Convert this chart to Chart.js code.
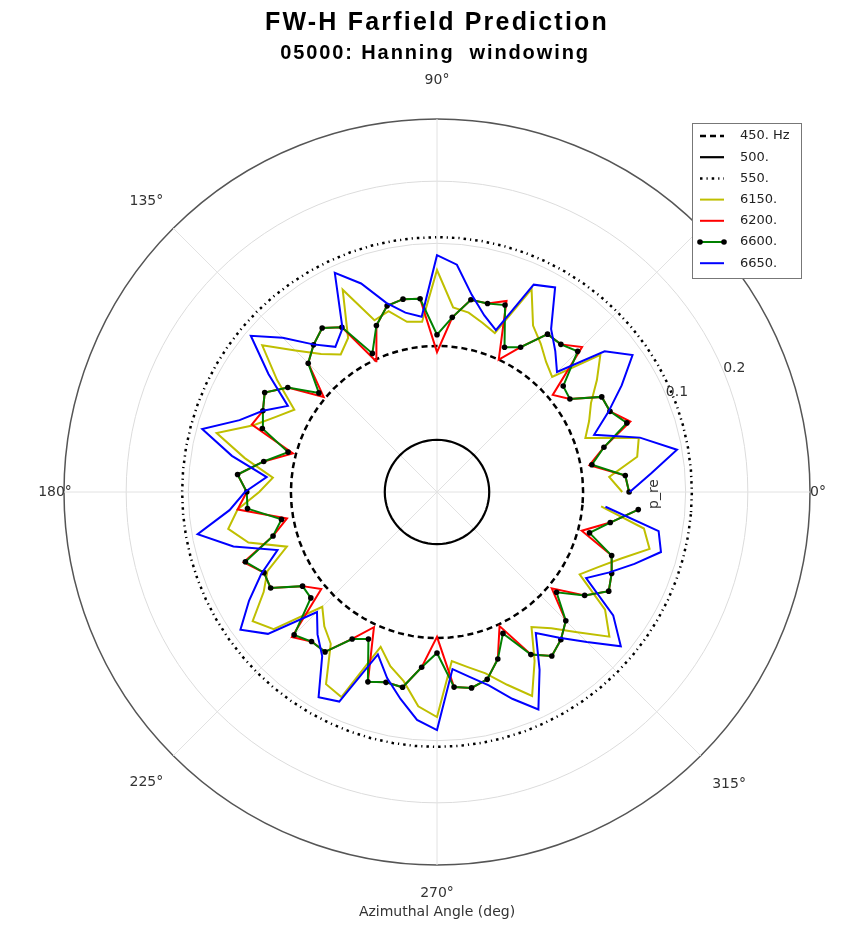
<!DOCTYPE html>
<html>
<head>
<meta charset="utf-8">
<script src="https://cdn.jsdelivr.net/npm/chart.js@4.4.0/dist/chart.umd.min.js"></script>
<style>
  html, body { margin: 0; padding: 0; background: #fff; overflow: hidden; }
  #wrap { width: 856px; height: 938px; }
</style>
</head>
<body>
<div id="wrap"><canvas id="farfield" width="856" height="938"></canvas></div>
<script>
// azimuthal angle of each sample (deg, counter-clockwise from 0 deg)
const angles = [0, 5, 10, 15, 20, 25, 30, 35, 40, 45, 50, 55, 60, 65, 70, 75, 80, 85,
  90, 95, 100, 105, 110, 115, 120, 125, 130, 135, 140, 145, 150, 155, 160, 165, 170, 175,
  180, 185, 190, 195, 200, 205, 210, 215, 220, 225, 230, 235, 240, 245, 250, 255, 260, 265,
  270, 275, 280, 285, 290, 295, 300, 305, 310, 315, 320, 325, 330, 335, 340, 345, 350, 355];

// p_re per frequency, same order as angles
const p450 = [-0.065, -0.065, -0.065, -0.065, -0.065, -0.065, -0.065, -0.065, -0.065, -0.065, -0.065, -0.065,
  -0.065, -0.065, -0.065, -0.065, -0.065, -0.065, -0.065, -0.065, -0.065, -0.065, -0.065, -0.065,
  -0.065, -0.065, -0.065, -0.065, -0.065, -0.065, -0.065, -0.065, -0.065, -0.065, -0.065, -0.065,
  -0.065, -0.065, -0.065, -0.065, -0.065, -0.065, -0.065, -0.065, -0.065, -0.065, -0.065, -0.065,
  -0.065, -0.065, -0.065, -0.065, -0.065, -0.065, -0.065, -0.065, -0.065, -0.065, -0.065, -0.065,
  -0.065, -0.065, -0.065, -0.065, -0.065, -0.065, -0.065, -0.065, -0.065, -0.065, -0.065, -0.065];
const p500 = [-0.216, -0.216, -0.216, -0.216, -0.216, -0.216, -0.216, -0.216, -0.216, -0.216, -0.216, -0.216,
  -0.216, -0.216, -0.216, -0.216, -0.216, -0.216, -0.216, -0.216, -0.216, -0.216, -0.216, -0.216,
  -0.216, -0.216, -0.216, -0.216, -0.216, -0.216, -0.216, -0.216, -0.216, -0.216, -0.216, -0.216,
  -0.216, -0.216, -0.216, -0.216, -0.216, -0.216, -0.216, -0.216, -0.216, -0.216, -0.216, -0.216,
  -0.216, -0.216, -0.216, -0.216, -0.216, -0.216, -0.216, -0.216, -0.216, -0.216, -0.216, -0.216,
  -0.216, -0.216, -0.216, -0.216, -0.216, -0.216, -0.216, -0.216, -0.216, -0.216, -0.216, -0.216];
const p550 = [0.110, 0.110, 0.110, 0.110, 0.110, 0.110, 0.110, 0.110, 0.110, 0.110, 0.110, 0.110,
  0.110, 0.110, 0.110, 0.110, 0.110, 0.110, 0.110, 0.110, 0.110, 0.110, 0.110, 0.110,
  0.110, 0.110, 0.110, 0.110, 0.110, 0.110, 0.110, 0.110, 0.110, 0.110, 0.110, 0.110,
  0.110, 0.110, 0.110, 0.110, 0.110, 0.110, 0.110, 0.110, 0.110, 0.110, 0.110, 0.110,
  0.110, 0.110, 0.110, 0.110, 0.110, 0.110, 0.110, 0.110, 0.110, 0.110, 0.110, 0.110,
  0.110, 0.110, 0.110, 0.110, 0.110, 0.110, 0.110, 0.110, 0.110, 0.110, 0.110, 0.110];
const p6150 = [-0.002, -0.022, 0.027, 0.036, -0.046, -0.030, -0.014, 0.014, 0.043, -0.038, -0.027, -0.009,
  0.009, 0.060, -0.028, -0.018, -0.007, -0.002, 0.057, -0.025, -0.022, 0.001, -0.006, 0.059,
  -0.014, -0.030, -0.010, 0.022, 0.067, 0.014, -0.035, -0.014, 0.014, 0.067, 0.014, -0.035,
  -0.014, 0.022, 0.041, 0.014, -0.043, 0.001, 0.022, 0.062, 0.043, -0.039, -0.018, -0.002,
  0.057, 0.064, -0.035, -0.010, 0.009, 0.046, 0.062, -0.027, -0.014, 0.002, 0.030, 0.062,
  0.014, -0.035, -0.014, 0.019, 0.062, 0.030, -0.035, -0.014, 0.014, 0.054, 0.038, -0.035];
const p6200 = [0.009, 0.004, -0.051, -0.022, 0.031, 0.007, 0.006, -0.039, -0.057, 0.030, 0.010, 0.010,
  -0.031, -0.065, 0.027, 0.014, 0.014, -0.018, -0.075, 0.012, 0.015, 0.010, -0.015, -0.068,
  0.006, 0.022, 0.009, -0.007, -0.062, -0.007, 0.020, 0.009, 0.017, -0.060, -0.017, 0.022,
  0.006, 0.022, -0.055, -0.027, 0.031, 0.007, 0.009, -0.036, -0.057, 0.030, 0.014, 0.014,
  -0.027, -0.060, 0.025, 0.017, 0.019, -0.017, -0.067, 0.015, 0.020, 0.012, -0.014, -0.062,
  0.002, 0.022, 0.010, -0.007, -0.059, -0.010, 0.019, 0.010, -0.001, -0.059, -0.017, 0.025];
const p6600 = [0.009, 0.004, -0.047, -0.022, 0.025, 0.007, 0.006, -0.039, -0.035, 0.020, 0.010, 0.010,
  -0.031, -0.043, 0.020, 0.014, 0.014, -0.018, -0.047, 0.012, 0.015, 0.010, -0.015, -0.054,
  0.006, 0.022, 0.009, -0.007, -0.052, -0.007, 0.020, 0.009, -0.001, -0.052, -0.017, 0.022,
  0.006, 0.006, -0.046, -0.027, 0.028, 0.007, 0.009, -0.036, -0.035, 0.025, 0.014, 0.014,
  -0.027, -0.039, 0.025, 0.017, 0.019, -0.017, -0.041, 0.015, 0.020, 0.012, -0.014, -0.049,
  0.002, 0.022, 0.010, -0.007, -0.049, -0.010, 0.019, 0.010, -0.001, -0.046, -0.017, 0.025];
const p6650 = [0.010, 0.046, 0.092, 0.038, -0.031, 0.004, 0.043, 0.084, 0.052, -0.027, -0.004, 0.020,
  0.080, 0.068, -0.023, -0.006, 0.022, 0.067, 0.081, -0.017, -0.007, 0.015, 0.057, 0.089,
  0.004, -0.015, 0.010, 0.051, 0.091, 0.031, -0.023, 0.009, 0.038, 0.091, 0.035, -0.025,
  0.009, 0.035, 0.091, 0.039, -0.027, 0.012, 0.049, 0.086, 0.055, -0.027, -0.001, 0.022,
  0.081, 0.072, -0.022, 0.010, 0.038, 0.068, 0.083, -0.014, 0.002, 0.022, 0.054, 0.086,
  0.030, -0.023, 0.006, 0.041, 0.086, 0.046, -0.023, 0.006, 0.038, 0.073, 0.062, -0.028];

const rTicks = [-0.3, 0.1, 0.2, 0.3];
const rTickLabels = ['0.1', '0.2'];
const angleTicks = [0, 45, 90, 135, 180, 225, 270, 315];
// distance of each angle label from the centre, px
const angleTickDist = [381, 411, 412, 411, 382, 411, 401, 413];

// radar goes clockwise, so feed it the samples from 355 deg down to 0 deg
const toRadar = arr => arr.slice().reverse();

// radar always closes its outline; the measured curve stops at 355 deg
const openEnds = {
  id: 'openEnds',
  afterDatasetsUpdate(chart) {
    chart.data.datasets.forEach((ds, i) => {
      if (!ds.openEnd) return;
      const line = chart.getDatasetMeta(i).dataset;
      line._loop = false;
      line._fullLoop = false;
      delete line._segments;
      delete line._path;
    });
  }
};

const decorations = {
  id: 'decorations',
  afterDraw(chart) {
    const ctx = chart.ctx;
    const r = chart.scales.r;
    const labels = chart.data.labels;
    ctx.save();

    // angle labels
    ctx.font = '14px "DejaVu Sans"';
    ctx.fillStyle = '#333';
    ctx.textAlign = 'center';
    ctx.textBaseline = 'middle';
    angleTicks.forEach((a, k) => {
      const p = r.getPointPosition(labels.indexOf(a), angleTickDist[k]);
      ctx.fillText(a + '\u00b0', p.x, p.y);
    });

    // radial tick labels along 22.5 deg
    const t = 22.5 * Math.PI / 180;
    rTickLabels.forEach(lbl => {
      const d = r.getDistanceFromCenterForValue(parseFloat(lbl)) + 11;
      ctx.fillText(lbl, r.xCenter + d * Math.cos(t), r.yCenter - d * Math.sin(t));
    });

    // radial axis name
    ctx.save();
    ctx.translate(r.xCenter + 217, r.yCenter + 2);
    ctx.rotate(-Math.PI / 2);
    ctx.fillText('p_re', 0, 0);
    ctx.restore();

    ctx.fillText('Azimuthal Angle (deg)', r.xCenter, 912);

    // legend
    const lx = 692, ly = 123, lw = 109, lh = 155;
    ctx.fillStyle = '#fff';
    ctx.fillRect(lx, ly, lw, lh);
    ctx.strokeStyle = '#777';
    ctx.lineWidth = 1;
    ctx.strokeRect(lx + 0.5, ly + 0.5, lw, lh);
    ctx.textAlign = 'left';
    ctx.font = '13px "DejaVu Sans"';
    chart.data.datasets.forEach((ds, i) => {
      const y = 136 + i * 21.2;
      ctx.strokeStyle = ds.borderColor;
      ctx.lineWidth = ds.borderWidth;
      ctx.setLineDash(ds.borderDash || []);
      ctx.beginPath();
      ctx.moveTo(700, y);
      ctx.lineTo(724, y);
      ctx.stroke();
      ctx.setLineDash([]);
      if (ds.pointRadius) {
        ctx.fillStyle = ds.pointBackgroundColor;
        [700, 724].forEach(x => {
          ctx.beginPath();
          ctx.arc(x, y, ds.pointRadius, 0, Math.PI * 2);
          ctx.fill();
        });
      }
      ctx.fillStyle = '#222';
      ctx.fillText(ds.label, 740, y);
    });

    // titles (the original is set quite loosely)
    ctx.fillStyle = '#000';
    ctx.textAlign = 'center';
    ctx.textBaseline = 'alphabetic';
    ctx.letterSpacing = '2.2px';
    ctx.font = 'bold 25px "Liberation Sans"';
    ctx.fillText('FW-H Farfield Prediction', 437, 30);
    ctx.letterSpacing = '1.9px';
    ctx.font = 'bold 20px "Liberation Sans"';
    ctx.fillText('05000: Hanning  windowing', 435, 59);
    ctx.letterSpacing = '0px';
    ctx.restore();
  }
};

const ctx = document.getElementById('farfield').getContext('2d');
new Chart(ctx, {
  type: 'radar',
  data: {
    labels: toRadar(angles),
    datasets: [
      { label: '450. Hz', data: toRadar(p450), borderColor: '#000', borderWidth: 2.5, borderDash: [6, 4], pointRadius: 0, order: 6 },
      { label: '500.', data: toRadar(p500), borderColor: '#000', borderWidth: 2.2, pointRadius: 0, order: 5 },
      { label: '550.', data: toRadar(p550), borderColor: '#000', borderWidth: 2.5, borderDash: [2.5, 4, 1.2, 4], pointRadius: 0, order: 4 },
      { label: '6150.', data: toRadar(p6150), borderColor: '#bfbf00', borderWidth: 2, pointRadius: 0, order: 3, openEnd: true },
      { label: '6200.', data: toRadar(p6200), borderColor: '#ff0000', borderWidth: 2, pointRadius: 0, order: 2, openEnd: true },
      { label: '6600.', data: toRadar(p6600), borderColor: '#008000', borderWidth: 2, pointRadius: 2.8,
        pointBackgroundColor: '#000', pointBorderColor: '#000', pointBorderWidth: 0, order: 1, openEnd: true },
      { label: '6650.', data: toRadar(p6650), borderColor: '#0000ff', borderWidth: 2, pointRadius: 0, order: 0, openEnd: true }
    ]
  },
  options: {
    responsive: false,
    animation: false,
    events: [],
    elements: { line: { tension: 0, fill: false } },
    layout: { padding: { left: 64, right: 46, top: 119, bottom: 73 } },
    plugins: { legend: { display: false }, tooltip: { enabled: false } },
    scales: {
      r: {
        min: -0.3,
        max: 0.3,
        startAngle: 95,
        afterBuildTicks: scale => { scale.ticks = rTicks.map(v => ({ value: v })); },
        ticks: { display: false },
        pointLabels: { display: false },
        grid: {
          circular: true,
          color: c => c.tick && c.tick.value >= 0.3 ? '#555' : '#dcdcdc',
          lineWidth: c => c.tick && c.tick.value >= 0.3 ? 1.5 : 1
        },
        angleLines: {
          color: '#e2e2e2',
          lineWidth: c => angleTicks.includes(+c.label) ? 1 : 0
        }
      }
    }
  },
  plugins: [openEnds, decorations]
});
</script>
</body>
</html>
